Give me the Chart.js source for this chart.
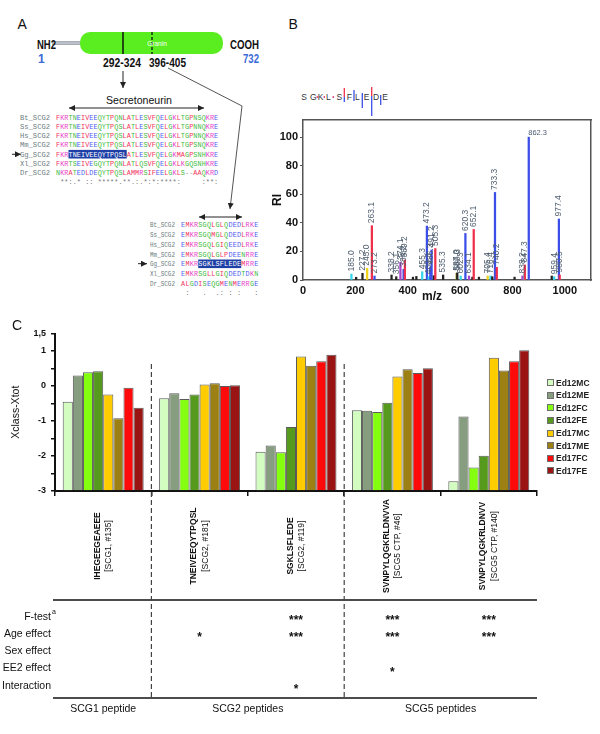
<!DOCTYPE html>
<html>
<head>
<meta charset="utf-8">
<script src="https://cdn.jsdelivr.net/npm/chart.js@4.4.0/dist/chart.umd.min.js"></script>
<style>
  body { margin: 0; background: #fff; font-family: 'Liberation Sans', Arial, sans-serif; }
  #fig { position: relative; width: 600px; height: 734px; overflow: hidden; background: #fff; }
  #svgA { position: absolute; left: 0; top: 0; }
  #boxB { position: absolute; left: 255px; top: 105px; width: 345px; height: 205px; }
  #boxC { position: absolute; left: 0; top: 300px; width: 600px; height: 434px; }
  #letterC { position: absolute; left: 12px; top: 318px; font-size: 14px; line-height: 1; color: #111; }
  #legendC { position: absolute; left: 547px; top: 376.5px; }
  .leg-item { height: 12.57px; display: flex; align-items: center; font-weight: bold; font-size: 8.5px; color: #222; }
  .leg-box { width: 5px; height: 5px; border: 1px solid #707070; margin-right: 2px; }
</style>
</head>
<body>
<div id="fig">
  <svg id="svgA" width="600" height="300" font-family="'Liberation Sans', Arial, sans-serif">
    <defs>
      <marker id="ah" markerWidth="6" markerHeight="6" refX="6" refY="3" orient="auto-start-reverse" markerUnits="userSpaceOnUse">
        <path d="M0,0 L6,3 L0,6 z" fill="#222"/>
      </marker>
    </defs>
    <text x="17.5" y="29" font-size="14" fill="#111">A</text>
    <text x="288.5" y="29" font-size="14" fill="#111">B</text>

    <!-- protein scheme -->
    <line x1="52" y1="43" x2="82" y2="43" stroke="#8a939c" stroke-width="3.5"/>
    <line x1="52" y1="43" x2="82" y2="43" stroke="#d4dae0" stroke-width="1.3"/>
    <rect x="80" y="32" width="143" height="22" rx="10" fill="#5aee20"/>
    <line x1="123" y1="32" x2="123" y2="54" stroke="#111" stroke-width="1.5"/>
    <line x1="152" y1="32" x2="152" y2="54" stroke="#111" stroke-width="1.3" stroke-dasharray="3,2"/>
    <text x="157" y="45.5" font-size="6.5" fill="#fff" text-anchor="middle">Granin</text>
    <text x="37" y="48.5" font-weight="bold" font-size="12" fill="#111" textLength="19" lengthAdjust="spacingAndGlyphs">NH2</text>
    <text x="38" y="62.5" font-weight="bold" font-size="12" fill="#3a6ad8">1</text>
    <text x="230" y="48.5" font-weight="bold" font-size="12" fill="#111" textLength="29" lengthAdjust="spacingAndGlyphs">COOH</text>
    <text x="243" y="62.5" font-weight="bold" font-size="12" fill="#3a6ad8" textLength="16" lengthAdjust="spacingAndGlyphs">732</text>
    <text x="103" y="66.5" font-weight="bold" font-size="12" fill="#111" textLength="38" lengthAdjust="spacingAndGlyphs">292-324</text>
    <text x="149" y="66.5" font-weight="bold" font-size="12" fill="#111" textLength="37" lengthAdjust="spacingAndGlyphs">396-405</text>
    <line x1="123" y1="71" x2="123" y2="88" stroke="#222" stroke-width="1" marker-end="url(#ah)"/>
    <polyline points="168,68 242,106 230,209" fill="none" stroke="#555" stroke-width="1" marker-end="url(#ah)"/>

    <text x="139" y="103.5" font-size="11" fill="#111" text-anchor="middle" textLength="66" lengthAdjust="spacingAndGlyphs">Secretoneurin</text>
    <line x1="69" y1="108" x2="204" y2="108" stroke="#222" stroke-width="1" marker-start="url(#ah)" marker-end="url(#ah)"/>
    <line x1="199" y1="217" x2="242" y2="217" stroke="#222" stroke-width="1" marker-start="url(#ah)" marker-end="url(#ah)"/>
    <line x1="12" y1="154.3" x2="21" y2="154.3" stroke="#222" stroke-width="1" marker-end="url(#ah)"/>
    <line x1="138" y1="263.7" x2="147" y2="263.7" stroke="#222" stroke-width="1" marker-end="url(#ah)"/>

    <g id="aln"></g>

    <!-- fragment coverage above the spectrum -->
    <g id="fragHeader" font-size="8.5" fill="#333" text-anchor="middle">
      <line x1="344.3" y1="88" x2="344.3" y2="97" stroke="#f0304a" stroke-width="1.3"/>
      <line x1="344.3" y1="97" x2="344.3" y2="102" stroke="#3b4fe8" stroke-width="1.3"/>
      <line x1="354" y1="90" x2="354" y2="101" stroke="#3b4fe8" stroke-width="1.3"/>
      <line x1="362.3" y1="93" x2="362.3" y2="108" stroke="#3b4fe8" stroke-width="1.3"/>
      <line x1="371.7" y1="87" x2="371.7" y2="96" stroke="#f0304a" stroke-width="1.3"/>
      <line x1="371.7" y1="96" x2="371.7" y2="116" stroke="#3b4fe8" stroke-width="1.3"/>
      <line x1="380.7" y1="95" x2="380.7" y2="105" stroke="#3b4fe8" stroke-width="1.3"/>
      <circle cx="317.3" cy="97" r="0.9" fill="#e04080"/>
      <circle cx="324.3" cy="97" r="0.9" fill="#e04080"/>
      <circle cx="333.3" cy="97" r="0.9" fill="#e04080"/>
      <text x="304" y="100">S</text><text x="313.3" y="100">G</text><text x="320.7" y="100">K</text>
      <text x="328.3" y="100">L</text><text x="339.3" y="100">S</text><text x="349.3" y="100">F</text>
      <text x="357.3" y="100">L</text><text x="366.7" y="100">E</text><text x="376" y="100">D</text>
      <text x="385" y="100">E</text>
    </g>
  </svg>

  <div id="boxB"><canvas id="chartB"></canvas></div>
  <div id="boxC"><canvas id="chartC"></canvas></div>
  <div id="letterC">C</div>
  <div id="legendC"></div>
</div>

<script>
// ---- Panel A: alignments ----
const alnNames = ['Bt_SCG2', 'Ss_SCG2', 'Hs_SCG2', 'Mm_SCG2', 'Gg_SCG2', 'Xl_SCG2', 'Dr_SCG2'];
const alnSecretoneurin = [
    'FKRTNEIVEEQYTPQNLATLESVFQELGKLTGPNSQKRE',
    'FKRTNEIVEEQYTPQSLATLESVFQELGKLTGPNNQKRE',
    'FKRTNEIVEEQYTPQSLATLESVFQELGKLTGPNNQKRE',
    'FKRTNEIVEEQYTPQSLATLESVFQELGKLTGPSNQKRE',
    'FKRTNEIVEEQYTPQSLATLESVFQELGKMAGPSNHKRE',
    'FKRTSEIVEGQYTPQNLATLQSVFQELGKLKGQSNHKRE',
    'NKRATEDLDEQYTPQSLAMMRSIFEELGKLS--AAQKRD'
];
const consSecretoneurin = ' **:.* :: *****.**.:.*:*:****:     :**:';
const alnSecond = [
    'EMKRSGQLGLQDEDLRKE',
    'EMKRSGQMGLQDEDLRKE',
    'EMKRSGQLGIQEEDLRKE',
    'EMKRSGQLGLPDEENRRE',
    'EMKRSGKLSFLEDEMRRE',
    'EMKRSGLLGIQDEDTDKN',
    'ALGDISEQGMENMERRGE'
];
const consSecond = ' :   .  .: : :   :';

// ---- Panel B: MS/MS spectrum of SGKLSFLEDE ----
const peakMz = [185.0, 203.0, 227.2, 245.0, 263.1, 273.2, 338.2, 356.1, 372.1, 384.2, 389.2, 420.0, 433.0,
    455.3, 473.2, 480.3, 486.3, 491.2, 500.0, 505.3, 535.3, 587.0, 589.3, 602.3, 620.3, 634.1, 647.0,
    652.1, 672.0, 705.4, 716.4, 723.0, 733.3, 740.2, 808.0, 838.2, 845.3, 847.3, 862.3, 950.0, 959.4,
    977.4, 980.5];
const peakRI = [4.2, 1.9, 4.7, 8.2, 38, 2.8, 3.5, 2.3, 12.4, 7.5, 14, 2, 2.5,
    5.8, 37.8, 2.3, 9, 21, 3, 22, 3.5, 4.7, 5, 2.8, 32.6, 2.8, 2,
    35.4, 2, 2.8, 2.8, 2.3, 61.3, 8.9, 2, 2.8, 4, 10.5, 100, 2.8, 2.3,
    42.7, 3.5];
const peakIon = ['a', 'int', 'int', 'bw', 'b', 'y', 'int', 'int', 'yw', 'y', 'b', 'int', 'int',
    'a', 'y', 'a', 'y', 'y', 'int', 'b', 'int', 'o', 'int', 'a', 'y', 'yw', 'int',
    'b', 'int', 'bw', 'a', 'int', 'y', 'b', 'int', 'yw', 'a', 'b', 'y', 'int', 'a',
    'y', 'b'];
const peakLabel = ['185.0', '', '227.2', '245.0', '263.1', '273.2', '338.2', '356.1', '374.1', '384.2', '389.2', '', '',
    '455.3', '473.2', '480.3', '486.3', '491.2', '', '505.3', '535.3', '587.0', '589.3', '602.3', '620.3', '634.1', '',
    '652.1', '', '705.4', '716.4', '', '733.3', '740.2', '', '838.2', '', '847.3', '862.3', '', '959.4',
    '977.4', '980.5'];
const ionColors = { y: '#3b4fe8', b: '#f0304a', a: '#33d6ec', int: '#222222', yw: '#a844cc', bw: '#eed21e', o: '#9a8a1c' };

// ---- Panel C: peptide levels ----
const seriesNames = ['Ed12MC', 'Ed12ME', 'Ed12FC', 'Ed12FE', 'Ed17MC', 'Ed17ME', 'Ed17FC', 'Ed17FE'];
const seriesColors = ['#d2fcc0', '#879d80', '#84ff10', '#559a1c', '#ffcc00', '#9c8013', '#ff0a0a', '#9a1414'];
const peptideSeqs = ['IHEGEEGEAEEE', 'TNEIVEEQYTPQSL', 'SGKLSFLEDE', 'SVNPYLQGKRLDNVVA', 'SVNPYLQGKRLDNVV'];
const peptideIds = ['[SCG1, #135]', '[SCG2, #181]', '[SCG2, #119]', '[SCG5 CTP, #46]', '[SCG5 CTP, #140]'];
const ed12MC = [-0.45, -0.35, -1.88, -0.69, -2.72];
const ed12ME = [0.30, -0.21, -1.70, -0.71, -0.87];
const ed12FC = [0.39, -0.37, -1.89, -0.74, -2.33];
const ed12FE = [0.42, -0.24, -1.17, -0.48, -1.99];
const ed17MC = [-0.24, 0.04, 0.84, 0.27, 0.81];
const ed17ME = [-0.92, 0.08, 0.58, 0.48, 0.44];
const ed17FC = [-0.05, 0.00, 0.71, 0.37, 0.71];
const ed17FE = [-0.62, 0.02, 0.89, 0.51, 1.02];
const seriesValues = [ed12MC, ed12ME, ed12FC, ed12FE, ed17MC, ed17ME, ed17FC, ed17FE];

const effectRows = ['F-test', 'Age effect', 'Sex effect', 'EE2 effect', 'Interaction'];
const effectStars = [
    ['', '', '***', '***', '***'],
    ['', '*', '***', '***', '***'],
    ['', '', '', '', ''],
    ['', '', '', '*', ''],
    ['', '', '*', '', '']
];
const familyLabels = ['SCG1 peptide', 'SCG2 peptides', 'SCG5 peptides'];
const familySpans = [[0, 0], [1, 2], [3, 4]];

const FONT = "'Liberation Sans', Arial, sans-serif";
Chart.defaults.font.family = FONT;

// Colores por tipo de residuo (esquema clustal)
function resColor(c) {
    if ('AVFPMILW'.includes(c)) return '#f2345c';
    if ('DE'.includes(c)) return '#5060f0';
    if ('RK'.includes(c)) return '#e844c8';
    if ('STYHCNGQ'.includes(c)) return '#3dbb3d';
    return '#999';
}

function alignmentBlock(seqs, cons, o) {
    let svg = '';
    const rowY = i => o.y0 + i * o.dy;
    // highlight of the identified peptide
    svg += `<rect x="${o.seqX + o.hlStart * o.pitch}" y="${rowY(o.hlRow) - 4.3}" width="${o.hlLen * o.pitch}" height="8.6" fill="#1d3fa6"/>`;
    seqs.forEach(function(seq, r) {
        const base = rowY(r) + 2.4;
        svg += `<text x="${o.nameX}" y="${base}" font-family="'Liberation Mono', monospace" font-size="6.6" fill="#6d7d80" textLength="${o.nameW}" lengthAdjust="spacingAndGlyphs">${alnNames[r]}</text>`;
        for (let i = 0; i < seq.length; i++) {
            const inHl = r === o.hlRow && i >= o.hlStart && i < o.hlStart + o.hlLen;
            const fill = inHl ? '#ffffff' : resColor(seq[i]);
            svg += `<text x="${(o.seqX + (i + 0.5) * o.pitch).toFixed(2)}" y="${base}" font-family="'Liberation Mono', monospace" font-size="6.8" text-anchor="middle" fill="${fill}">${seq[i]}</text>`;
        }
    });
    const cb = rowY(seqs.length) + 2.4;
    for (let i = 0; i < cons.length; i++) {
        if (cons[i] === ' ') continue;
        svg += `<text x="${(o.seqX + (i + 0.5) * o.pitch).toFixed(2)}" y="${cb}" font-family="'Liberation Mono', monospace" font-size="6.8" text-anchor="middle" fill="#777">${cons[i]}</text>`;
    }
    return svg;
}

document.getElementById('aln').innerHTML =
    alignmentBlock(alnSecretoneurin, consSecretoneurin, { nameX: 20, nameW: 30, seqX: 56, pitch: 4.16, y0: 117.4, dy: 9.2, hlRow: 4, hlStart: 3, hlLen: 14 }) +
    alignmentBlock(alnSecond, consSecond, { nameX: 150, nameW: 25, seqX: 181, pitch: 4.3, y0: 225, dy: 9.7, hlRow: 4, hlStart: 4, hlLen: 10 });

// ---- Panel B chart ----
const peakLabelPlugin = {
    id: 'peakLabels',
    afterDatasetsDraw(chart) {
        const { ctx, chartArea: a, scales: { x, y } } = chart;
        ctx.save();
        ctx.fillStyle = '#4d5c6e';
        peakMz.forEach(function(m, i) {
            const lbl = peakLabel[i];
            if (!lbl) return;
            const px = x.getPixelForValue(m);
            const py = y.getPixelForValue(peakRI[i]);
            if (peakRI[i] >= 100) {
                ctx.font = '7.5px ' + FONT;
                ctx.textAlign = 'left';
                ctx.textBaseline = 'alphabetic';
                ctx.fillText(lbl, px - 0.5, py - 2);
            } else {
                ctx.save();
                ctx.translate(px, py - 2.5);
                ctx.rotate(-Math.PI / 2);
                ctx.font = '8.5px ' + FONT;
                ctx.textAlign = 'left';
                ctx.textBaseline = 'middle';
                ctx.fillText(lbl, 0, 0);
                ctx.restore();
            }
        });
        // axis title, set a bit left of centre as in the original
        ctx.fillStyle = '#111';
        ctx.font = 'bold 12px ' + FONT;
        ctx.textAlign = 'center';
        ctx.textBaseline = 'middle';
        ctx.fillText('m/z', a.left + 129, a.bottom + 17);
        ctx.restore();
    }
};

new Chart(document.getElementById('chartB'), {
    type: 'bar',
    data: {
        datasets: [{
            data: peakMz.map((m, i) => ({ x: m, y: peakRI[i] })),
            backgroundColor: peakIon.map(t => ionColors[t]),
            barThickness: 1.6,
            borderWidth: 0
        }]
    },
    options: {
        responsive: true,
        maintainAspectRatio: false,
        animation: false,
        devicePixelRatio: 1,
        layout: { padding: { top: 15, right: 9, left: 0, bottom: 0 } },
        plugins: { legend: { display: false }, tooltip: { enabled: false } },
        scales: {
            x: {
                type: 'linear', min: 0, max: 1100, offset: false,
                grid: { display: false, drawTicks: false },
                border: { display: true, color: '#555', width: 1.5 },
                ticks: { stepSize: 200, includeBounds: false, padding: 4, color: '#111', autoSkip: false, maxRotation: 0,
                         font: { size: 11, weight: 'bold' }, callback: v => String(v) },
                afterFit: s => { s.height = 30; }
            },
            xTop: {
                type: 'linear', position: 'top',
                grid: { display: false, drawTicks: false },
                ticks: { display: false },
                border: { display: true, color: '#555', width: 1.5 },
                afterFit: s => { s.height = 0; }
            },
            y: {
                type: 'linear', min: 0, max: 112,
                grid: { drawOnChartArea: false, tickLength: 3, color: '#555', lineWidth: 1 },
                border: { display: true, color: '#555', width: 1.5 },
                ticks: { stepSize: 20, includeBounds: false, padding: 2, color: '#111', autoSkip: false,
                         font: { size: 11, weight: 'bold' }, callback: v => String(v) },
                title: { display: true, text: 'RI', color: '#111', font: { size: 12, weight: 'bold' }, padding: { top: 15, bottom: 0 } },
                afterFit: s => { s.width = 48; }
            },
            yRight: {
                type: 'linear', position: 'right',
                grid: { display: false, drawTicks: false },
                ticks: { display: false },
                border: { display: true, color: '#555', width: 1.5 },
                afterFit: s => { s.width = 0; }
            }
        }
    },
    plugins: [peakLabelPlugin]
});

// ---- Panel C chart ----
const tablePlugin = {
    id: 'peptideTable',
    afterDraw(chart) {
        const { ctx, chartArea: a, scales: { x } } = chart;
        const centers = peptideSeqs.map((_, i) => x.getPixelForValue(i));
        const half = (centers[1] - centers[0]) / 2;
        const font = (w, s) => `${w} ${s}px ${FONT}`;
        ctx.save();
        ctx.fillStyle = '#111';

        // nombres de péptidos, rotados
        centers.forEach(function(cx, i) {
            [[peptideSeqs[i], 'bold', -5.7], [peptideIds[i], 'normal', 5.7]].forEach(function(part) {
                ctx.save();
                ctx.translate(cx + part[2], a.bottom + 55);
                ctx.rotate(-Math.PI / 2);
                ctx.font = font(part[1], 8.5);
                ctx.textAlign = 'center';
                ctx.textBaseline = 'middle';
                ctx.fillText(part[0], 0, 0);
                ctx.restore();
            });
        });

        const tTop = a.bottom + 109;
        const tBot = a.bottom + 207;
        ctx.strokeStyle = '#111';
        ctx.lineWidth = 1.5;
        [tTop, tBot].forEach(function(yy) {
            ctx.beginPath();
            ctx.moveTo(a.left - 2, yy);
            ctx.lineTo(a.right, yy);
            ctx.stroke();
        });

        // separadores entre familias
        ctx.setLineDash([5, 3]);
        ctx.lineWidth = 1.2;
        ctx.strokeStyle = '#444';
        familySpans.slice(1).forEach(function(span) {
            const xx = centers[span[0]] - half;
            ctx.beginPath();
            ctx.moveTo(xx, a.top + 30.5);
            ctx.lineTo(xx, tBot);
            ctx.stroke();
        });
        ctx.setLineDash([]);

        // filas de efectos
        effectRows.forEach(function(row, r) {
            const yy = tTop + 17 + r * 17.2;
            ctx.font = font('normal', 10.5);
            ctx.textAlign = 'right';
            ctx.textBaseline = 'middle';
            ctx.fillText(row, a.left - 4, yy);
            if (r === 0) {
                ctx.font = font('normal', 7);
                ctx.textAlign = 'left';
                ctx.fillText('a', a.left - 3, yy - 5);
            }
            effectStars[r].forEach(function(st, i) {
                if (!st) return;
                ctx.font = font('bold', 12);
                ctx.textAlign = 'center';
                ctx.textBaseline = 'alphabetic';
                ctx.fillText(st, centers[i], yy + 7);
            });
        });

        // etiquetas de familia
        ctx.font = font('normal', 10.5);
        ctx.textAlign = 'center';
        ctx.textBaseline = 'middle';
        familySpans.forEach(function(span, f) {
            const xx = (centers[span[0]] + centers[span[1]]) / 2;
            ctx.fillText(familyLabels[f], xx, tBot + 11);
        });
        ctx.restore();
    }
};

new Chart(document.getElementById('chartC'), {
    type: 'bar',
    data: {
        labels: peptideSeqs,
        datasets: seriesNames.map((name, k) => ({
            label: name,
            data: seriesValues[k],
            base: -3,
            backgroundColor: seriesColors[k],
            borderColor: '#5a5a5a',
            borderWidth: 1,
            categoryPercentage: 0.84,
            barPercentage: 1.0
        }))
    },
    options: {
        responsive: true,
        maintainAspectRatio: false,
        animation: false,
        devicePixelRatio: 1,
        layout: { padding: { top: 33.5, right: 63, left: 0, bottom: 0 } },
        plugins: { legend: { display: false }, tooltip: { enabled: false } },
        scales: {
            x: {
                type: 'category', offset: true,
                grid: { offset: true, drawOnChartArea: false, drawTicks: true, tickLength: 5, color: '#111', lineWidth: 1.5 },
                border: { display: true, color: '#111', width: 2 },
                ticks: { display: false },
                afterFit: s => { s.height = 243; }
            },
            y: {
                type: 'linear', min: -3, max: 1.5,
                grid: { drawOnChartArea: false, tickLength: 4, color: '#111', lineWidth: 1.5 },
                border: { display: true, color: '#111', width: 2 },
                ticks: { stepSize: 0.5, padding: 5, color: '#111', font: { size: 9, weight: 'bold' },
                         callback: v => (v === 1.5 ? '1,5' : Number.isInteger(v) ? String(v) : '') },
                title: { display: true, text: 'Xclass-Xtot', color: '#111', font: { size: 10.5 }, padding: { top: 10, bottom: 0 } },
                afterFit: s => { s.width = 55; }
            }
        }
    },
    plugins: [tablePlugin]
});

// leyenda
document.getElementById('legendC').innerHTML = seriesNames.map((n, k) =>
    `<div class="leg-item"><span class="leg-box" style="background:${seriesColors[k]}"></span>${n}</div>`
).join('');
</script>
</body>
</html>
